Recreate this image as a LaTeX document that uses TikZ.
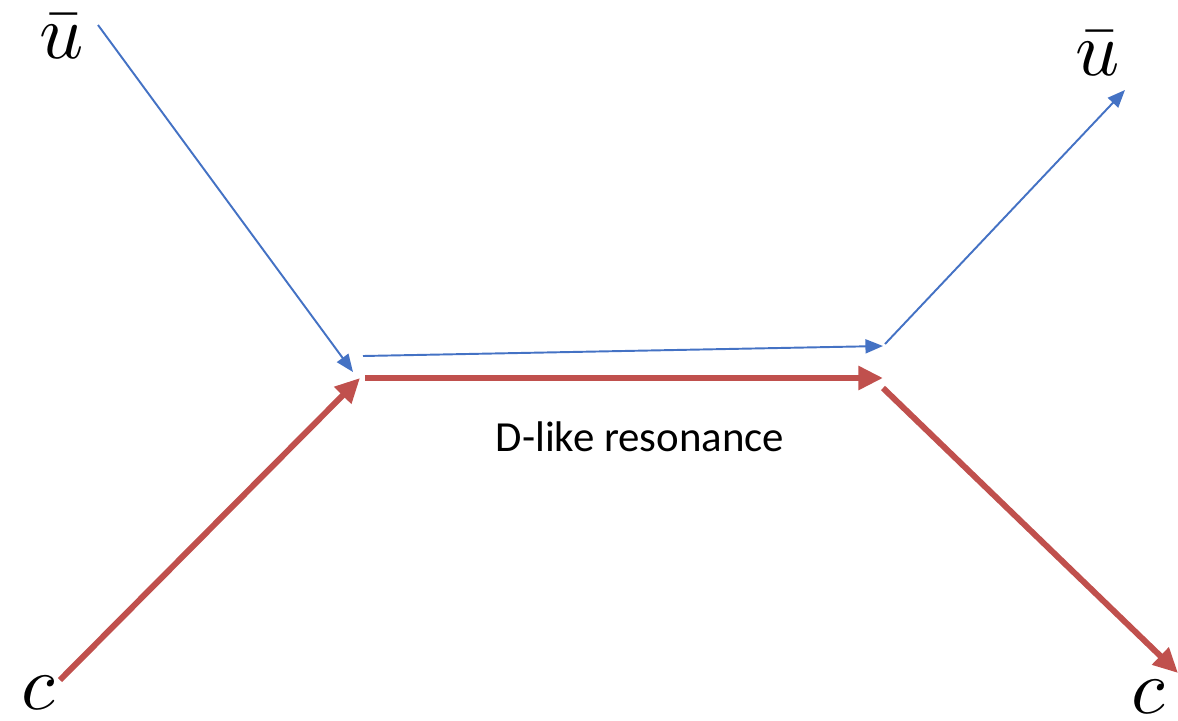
\documentclass[tikz,border=0pt]{standalone}
\usepackage{fontspec}
\newfontfamily\labelfont{Carlito}
\usepackage{tikz}
\usetikzlibrary{arrows.meta}
\definecolor{quarkblue}{RGB}{68,114,196}
\definecolor{quarkred}{RGB}{192,80,77}
\tikzset{
  light/.style={
    draw=quarkblue, line width=1.1pt,
    -{Triangle[length=10pt,width=8pt]}
  },
  heavy/.style={
    draw=quarkred, line width=3.4pt,
    -{Triangle[length=14pt,width=13pt]}
  },
  flavour/.style={
    inner sep=0pt, scale=4.4
  },
  caption/.style={
    inner sep=0pt, font=\labelfont\fontsize{24.4}{28}\selectfont
  }
}

\begin{document}
\begin{tikzpicture}[x=0.02cm, y=-0.02cm]
  \useasboundingbox (0,0) rectangle (1178,721);

  % quark labels
  \node[flavour] (ubarin) at (62,37) {$\bar{u}$};
  \node[flavour] (ubarout) at (1098,54) {$\bar{u}$};
  \node[flavour] (cin) at (38,693) {$c$};
  \node[flavour] (cout) at (1148,697) {$c$};
  \node[caption] (res) at (640,437) {D-like resonance};

  % end points of the lines
  \coordinate (u1) at (98,25);
  \coordinate (u2) at (353,372);
  \coordinate (u3) at (363,356);
  \coordinate (u4) at (883,346);
  \coordinate (u5) at (885,344);
  \coordinate (u6) at (1125,90);
  \coordinate (c1) at (60,680);
  \coordinate (c2) at (360,378);
  \coordinate (c3) at (365,378);
  \coordinate (c4) at (883,378);
  \coordinate (c5) at (883,388);
  \coordinate (c6) at (1178,673);

  \draw[light] (u1) -- (u2);
  \draw[light] (u3) -- (u4);
  \draw[light] (u5) -- (u6);
  \draw[heavy] (c1) -- (c2);
  \draw[heavy] (c3) -- (c4);
  \draw[heavy] (c5) -- (c6);
\end{tikzpicture}
\end{document}
